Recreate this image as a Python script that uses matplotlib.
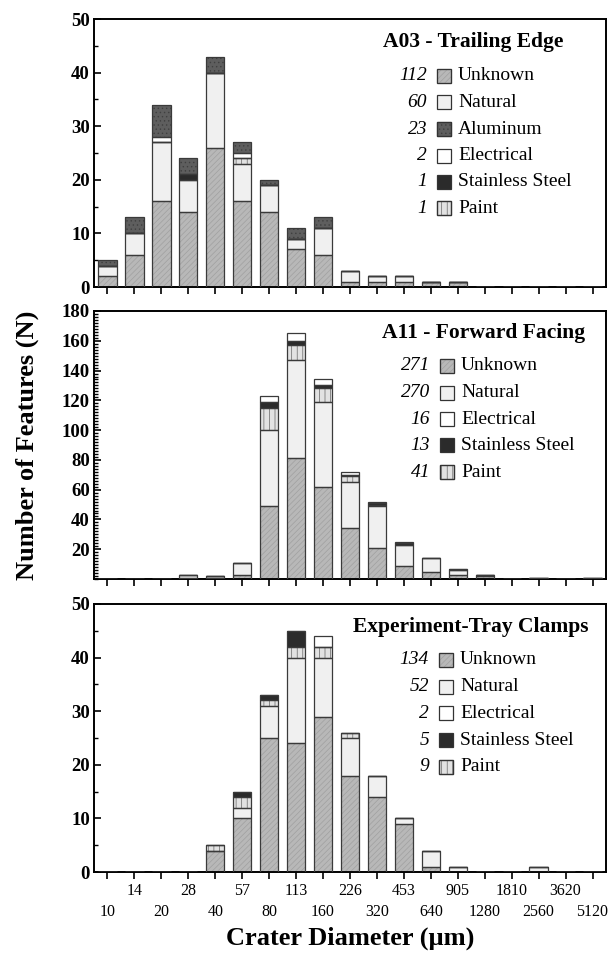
import matplotlib
matplotlib.use("Agg")
import matplotlib.pyplot as plt
import matplotlib.patches as mpatches
import numpy as np

plt.rcParams['font.family'] = ['Liberation Serif', 'DejaVu Serif']
plt.rcParams['hatch.linewidth'] = 0.5

# crater diameter bins (um)
diameters = ['10', '14', '20', '28', '40', '57', '80', '113', '160', '226', '320',
             '453', '640', '905', '1280', '1810', '2560', '3620', '5120']

# A03 - Trailing Edge
a03_unknown = [2, 6, 16, 14, 26, 16, 14, 7, 6, 1, 1, 1, 1, 1, 0, 0, 0, 0, 0]
a03_natural = [2, 4, 11, 6, 14, 7, 5, 2, 5, 2, 1, 1, 0, 0, 0, 0, 0, 0, 0]
a03_paint = [0, 0, 0, 0, 0, 1, 0, 0, 0, 0, 0, 0, 0, 0, 0, 0, 0, 0, 0]
a03_steel = [0, 0, 0, 1, 0, 0, 0, 0, 0, 0, 0, 0, 0, 0, 0, 0, 0, 0, 0]
a03_electrical = [0, 0, 1, 0, 0, 1, 0, 0, 0, 0, 0, 0, 0, 0, 0, 0, 0, 0, 0]
a03_aluminum = [1, 3, 6, 3, 3, 2, 1, 2, 2, 0, 0, 0, 0, 0, 0, 0, 0, 0, 0]

# A11 - Forward Facing
a11_unknown = [0, 0, 0, 1, 1, 3, 49, 81, 62, 34, 21, 9, 5, 3, 2, 0, 0, 0, 0]
a11_natural = [0, 0, 0, 2, 1, 8, 51, 66, 57, 31, 28, 14, 9, 3, 1, 0, 1, 0, 1]
a11_paint = [0, 0, 0, 0, 0, 0, 15, 10, 9, 4, 1, 0, 0, 0, 0, 0, 0, 0, 0]
a11_steel = [0, 0, 0, 0, 0, 0, 4, 3, 2, 1, 1, 1, 0, 1, 0, 0, 0, 0, 0]
a11_electrical = [0, 0, 0, 0, 0, 0, 4, 5, 4, 2, 1, 1, 0, 0, 0, 0, 0, 0, 0]

# Experiment-Tray Clamps
etc_unknown = [0, 0, 0, 0, 4, 10, 25, 24, 29, 18, 14, 9, 1, 0, 0, 0, 0, 0, 0]
etc_natural = [0, 0, 0, 0, 0, 2, 6, 16, 11, 7, 4, 1, 3, 1, 0, 0, 1, 0, 0]
etc_paint = [0, 0, 0, 0, 1, 2, 1, 2, 2, 1, 0, 0, 0, 0, 0, 0, 0, 0, 0]
etc_steel = [0, 0, 0, 0, 0, 1, 1, 3, 0, 0, 0, 0, 0, 0, 0, 0, 0, 0, 0]
etc_electrical = [0, 0, 0, 0, 0, 0, 0, 0, 2, 0, 0, 0, 0, 0, 0, 0, 0, 0, 0]

# legend totals
a03_counts = [('112', 'Unknown'), ('60', 'Natural'), ('23', 'Aluminum'),
              ('2', 'Electrical'), ('1', 'Stainless Steel'), ('1', 'Paint')]
a11_counts = [('271', 'Unknown'), ('270', 'Natural'), ('16', 'Electrical'),
              ('13', 'Stainless Steel'), ('41', 'Paint')]
etc_counts = [('134', 'Unknown'), ('52', 'Natural'), ('2', 'Electrical'),
              ('5', 'Stainless Steel'), ('9', 'Paint')]

# fill, hatch colour, hatch
styles = {
    'Unknown': ('#b8b8b8', '#a0a0a0', '//////'),
    'Natural': ('#f0f0f0', '#e0e0e0', None),
    'Paint': ('#e2e2e2', '#666666', '|||'),
    'Stainless Steel': ('#2b2b2b', '#2b2b2b', None),
    'Electrical': ('#ffffff', '#ffffff', None),
    'Aluminum': ('#5e5e5e', '#404040', '....'),
}

W, H = 609, 955
fig = plt.figure(figsize=(W / 100, H / 100), dpi=100)


def fx(x):
    return x / W


def fy(y):
    return 1 - y / H


def draw_panel(ax, series, ymax, major, minor, show_zero):
    x = np.arange(len(diameters))
    bottom = np.zeros(len(diameters))
    for name, vals in series:
        vals = np.array(vals, dtype=float)
        fill, hc, hatch = styles[name]
        ax.bar(x, vals, width=0.68, bottom=bottom, color=fill, edgecolor=hc,
               hatch=hatch, linewidth=0, zorder=2)
        ax.bar(x, vals, width=0.68, bottom=bottom, fill=False,
               edgecolor='#3a3a3a', linewidth=0.9, zorder=3)
        bottom += vals
    ax.set_xlim(-0.5, len(diameters) - 0.5)
    ax.set_ylim(0, ymax)
    ax.set_yticks(np.arange(0 if show_zero else major, ymax + 1, major))
    ax.set_yticks(np.arange(0, ymax + 1, minor), minor=True)
    ax.tick_params(axis='y', which='major', direction='in', length=5, width=1.2,
                   labelsize=13.5, pad=3)
    ax.tick_params(axis='y', which='minor', direction='in', length=3, width=1)
    for lab in ax.get_yticklabels():
        lab.set_fontweight('bold')
    for s in ax.spines.values():
        s.set_linewidth(1.4)
    # odd bins on major ticks, even bins on minor ticks (lower row)
    ax.set_xticks(x[1::2])
    ax.set_xticks(x[0::2], minor=True)
    ax.tick_params(axis='x', which='both', direction='out', length=5, width=1.2)


def draw_legend(title, tcx, ty, counts, numx, row_y, step):
    fig.text(fx(tcx), fy(ty), title, ha='center', va='center', fontsize=15.5,
             fontweight='bold')
    for i, (n, name) in enumerate(counts):
        yc = row_y + i * step
        fig.text(fx(numx), fy(yc), n, ha='right', va='center', fontsize=14,
                 style='italic')
        fill, hc, hatch = styles[name]
        sx = numx + 10
        rect = mpatches.Rectangle((fx(sx), fy(yc + 7)), 14 / W, 14 / H,
                                  transform=fig.transFigure, facecolor=fill,
                                  edgecolor='#333333' if hatch is None else hc,
                                  hatch=hatch, linewidth=0.9)
        fig.add_artist(rect)
        if hatch is not None:
            fig.add_artist(mpatches.Rectangle((fx(sx), fy(yc + 7)), 14 / W, 14 / H,
                                              transform=fig.transFigure, fill=False,
                                              edgecolor='#333333', linewidth=0.9))
        fig.text(fx(sx + 21), fy(yc), name, ha='left', va='center', fontsize=14)


left, width = fx(94), fx(606) - fx(94)

ax1 = fig.add_axes([left, fy(287), width, fy(19) - fy(287)])
draw_panel(ax1, [('Unknown', a03_unknown), ('Natural', a03_natural),
                 ('Paint', a03_paint), ('Stainless Steel', a03_steel),
                 ('Electrical', a03_electrical), ('Aluminum', a03_aluminum)],
           50, 10, 5, True)
ax1.set_xticklabels([])
ax1.set_xticklabels([], minor=True)
draw_legend('A03 - Trailing Edge', 473, 42, a03_counts, 427, 76, 26.5)

ax2 = fig.add_axes([left, fy(579), width, fy(311) - fy(579)])
draw_panel(ax2, [('Unknown', a11_unknown), ('Natural', a11_natural),
                 ('Paint', a11_paint), ('Stainless Steel', a11_steel),
                 ('Electrical', a11_electrical)],
           180, 20, 2, False)
ax2.set_xticklabels([])
ax2.set_xticklabels([], minor=True)
draw_legend('A11 - Forward Facing', 484, 333, a11_counts, 430, 366, 26.5)

ax3 = fig.add_axes([left, fy(872), width, fy(604) - fy(872)])
draw_panel(ax3, [('Unknown', etc_unknown), ('Natural', etc_natural),
                 ('Paint', etc_paint), ('Stainless Steel', etc_steel),
                 ('Electrical', etc_electrical)],
           50, 10, 5, True)
draw_legend('Experiment-Tray Clamps', 471, 627, etc_counts, 429, 660, 26.7)

# two staggered rows of tick labels
ax3.set_xticklabels(diameters[1::2], fontsize=11.5)
ax3.set_xticklabels(diameters[0::2], minor=True, fontsize=11.5)
ax3.tick_params(axis='x', which='major', pad=3)
ax3.tick_params(axis='x', which='minor', pad=18)

fig.text(fx(350), fy(938), 'Crater Diameter (\u00b5m)', ha='center', va='center',
         fontsize=19, fontweight='bold')
fig.text(fx(27), fy(445), 'Number of Features (N)', ha='center', va='center',
         fontsize=19, fontweight='bold', rotation=90)

fig.savefig('out.png', dpi=100)
